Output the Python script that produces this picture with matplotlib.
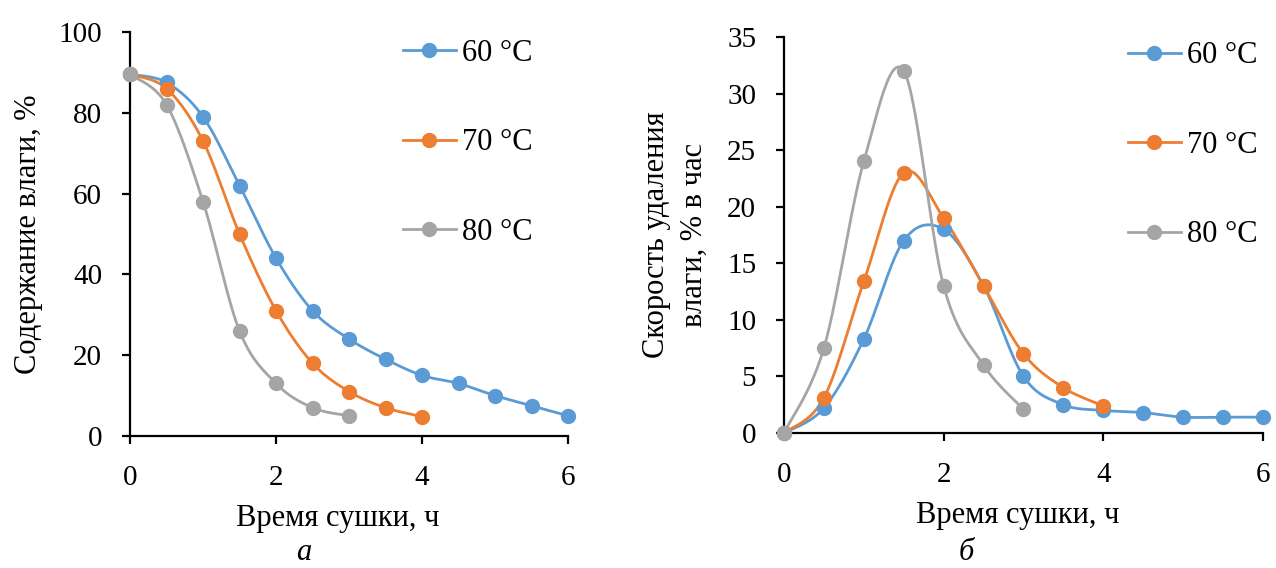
import matplotlib
matplotlib.use("Agg")
import matplotlib.pyplot as plt
import numpy as np

plt.rcParams["font.family"] = ["Liberation Serif", "DejaVu Serif"]
plt.rcParams["font.size"] = 21

# Drying time, hours
time_h = [0, 0.5, 1, 1.5, 2, 2.5, 3, 3.5, 4, 4.5, 5, 5.5, 6]

# Moisture content, %
moist_60 = [89.5, 87.5, 79, 62, 44, 31, 24, 19, 15, 13, 10, 7.5, 5]
moist_70 = [89.5, 86, 73, 50, 31, 18, 11, 7, 4.8]
moist_80 = [89.5, 82, 58, 26, 13, 7, 5]

# Moisture removal rate, % per hour
rate_60 = [0, 2.2, 8.3, 17, 18, 13, 5, 2.5, 2, 1.8, 1.4, 1.4, 1.4]
rate_70 = [0, 3.1, 13.4, 23, 19, 13, 7, 4, 2.4]
rate_80 = [0, 7.5, 24, 32, 13, 6, 2.1]

labels = ["60 °C", "70 °C", "80 °C"]
colors = ["#5B9BD5", "#ED7D31", "#A5A5A5"]


def smooth(x, y, n=30):
    """Catmull-Rom curve through the points (spreadsheet-style smoothed line)."""
    p = np.column_stack([x, y]).astype(float)
    p = np.vstack([p[0], p, p[-1]])
    out = []
    t = np.linspace(0, 1, n)[:, None]
    for i in range(1, len(p) - 2):
        p0, p1, p2, p3 = p[i - 1], p[i], p[i + 1], p[i + 2]
        c1 = p1 + (p2 - p0) / 6
        c2 = p2 - (p3 - p1) / 6
        seg = ((1 - t) ** 3) * p1 + 3 * ((1 - t) ** 2) * t * c1 + 3 * (1 - t) * t ** 2 * c2 + t ** 3 * p2
        out.append(seg)
    out = np.vstack(out)
    return out[:, 0], out[:, 1]


def draw(ax, series, ylim, yticks, xlabel_x):
    for y, lab, col in zip(series, labels, colors):
        x = time_h[:len(y)]
        sx, sy = smooth(x, y)
        ax.plot(sx, sy, color=col, lw=2, zorder=2, clip_on=False)
        ax.plot(x, y, "o", color=col, ms=10, zorder=3, clip_on=False)
        ax.plot([], [], "-o", color=col, lw=2, ms=10, label=lab)
    ax.set_xlim(0, 6)
    ax.set_ylim(*ylim)
    ax.set_xticks([0, 2, 4, 6])
    ax.set_yticks(yticks)
    for s in ("top", "right"):
        ax.spines[s].set_visible(False)
    for s in ("left", "bottom"):
        ax.spines[s].set_linewidth(1.6)
        ax.spines[s].set_color("black")
    ax.tick_params(direction="out", length=6, width=1.6, labelsize=21)
    ax.tick_params(axis="x", pad=15)
    ax.tick_params(axis="y", pad=14)
    ax.set_xlabel("Время сушки, ч", fontsize=22, labelpad=9.5)
    ax.xaxis.label.set_x(xlabel_x)


fig = plt.figure(figsize=(12.76, 5.68), dpi=100)
ax1 = fig.add_axes([0.1019, 0.2324, 0.3433, 0.7113])
ax2 = fig.add_axes([0.6144, 0.2377, 0.3754, 0.6972])

draw(ax1, [moist_60, moist_70, moist_80], (0, 100), range(0, 101, 20), 0.475)
ax1.set_ylabel("Содержание влаги, %", fontsize=22, labelpad=11)
ax1.legend(loc="upper left", bbox_to_anchor=(0.5945, 1.013), frameon=False,
           labelspacing=1.98, handlelength=1.75, handletextpad=0.2,
           borderaxespad=0, fontsize=22)

draw(ax2, [rate_60, rate_70, rate_80], (0, 35), range(0, 36, 5), 0.4885)
ax2.set_ylabel("Скорость удаления\nвлаги, % в час", fontsize=22, labelpad=13,
               linespacing=1.4)
ax2.legend(loc="upper left", bbox_to_anchor=(0.692, 1.02), frameon=False,
           labelspacing=1.98, handlelength=1.75, handletextpad=0.2,
           borderaxespad=0, fontsize=22)

# Panel letters under each chart
fig.text(0.2383, 0.002, "а", style="italic", fontsize=22, ha="center", va="bottom")
fig.text(0.757, 0.002, "б", style="italic", fontsize=22, ha="center", va="bottom")

fig.savefig("out.png", dpi=100)
